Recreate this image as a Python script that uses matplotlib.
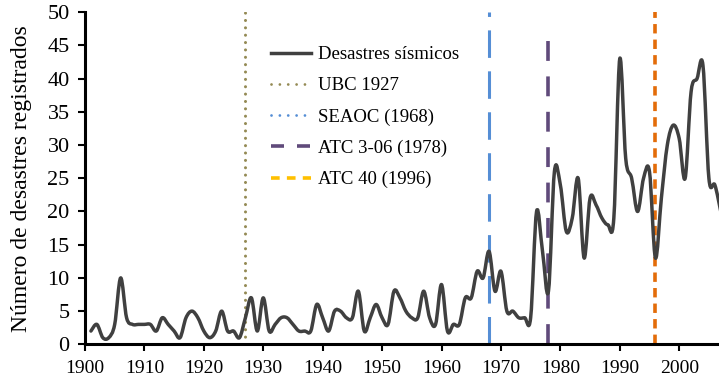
import numpy as np
import matplotlib
matplotlib.use("Agg")
import matplotlib.pyplot as plt
from matplotlib.path import Path
from matplotlib.patches import PathPatch
from matplotlib.lines import Line2D

# Seismic disasters recorded per year
years = list(range(1901, 2008))
disasters = [
    2, 3, 1, 1, 3, 10, 4, 3, 3, 3,        # 1901-1910
    3, 2, 4, 3, 2, 1, 4, 5, 4, 2,         # 1911-1920
    1, 2, 5, 2, 2, 1, 4, 7, 2, 7,         # 1921-1930
    2, 3, 4, 4, 3, 2, 2, 2, 6, 4,         # 1931-1940
    2, 5, 5, 4, 4, 8, 2, 4, 6, 4,         # 1941-1950
    3, 8, 7, 5, 4, 4, 8, 4, 3, 9,         # 1951-1960
    2, 3, 3, 7, 7, 11, 10, 14, 8, 11,     # 1961-1970
    5, 5, 4, 4, 4, 20, 14, 8, 26, 24,     # 1971-1980
    17, 19, 25, 13, 22, 21, 19, 18, 19, 43,  # 1981-1990
    28, 25, 20, 25, 26, 13, 22, 30, 33, 31,  # 1991-2000
    25, 38, 40, 42, 25, 24, 20,           # 2001-2007
]

# Building code milestones drawn as vertical markers
code_labels = ["UBC 1927", "SEAOC (1968)", "ATC 3-06 (1978)", "ATC 40 (1996)"]
code_years = [1927, 1968, 1978, 1996]
code_tops = [50, 50, 48, 50]

y_ticks = list(range(0, 51, 5))
x_ticks = list(range(1900, 2001, 10))

plt.rcParams["font.family"] = ["Liberation Serif", "DejaVu Serif"]

fig = plt.figure(figsize=(7.19, 3.83), dpi=100)
ax = fig.add_axes([0.1182, 0.101, 1 - 0.1182, 0.867])


def smooth_path(xs, ys):
    """Bezier path through every point, with spreadsheet-style smoothing."""
    pts = np.column_stack([xs, ys]).astype(float)
    n = len(pts)
    verts = [pts[0]]
    codes = [Path.MOVETO]
    for i in range(n - 1):
        p0 = pts[i - 1] if i > 0 else pts[i]
        p1 = pts[i]
        p2 = pts[i + 1]
        p3 = pts[i + 2] if i + 2 < n else pts[i + 1]
        c1 = p1 + (p2 - p0) / 6.0
        c2 = p2 - (p3 - p1) / 6.0
        verts.extend([c1, c2, p2])
        codes.extend([Path.CURVE4] * 3)
    return Path(verts, codes)


line_color = "#404040"
ax.add_patch(PathPatch(smooth_path(years, disasters), facecolor="none",
                       edgecolor=line_color, lw=2.5, capstyle="round",
                       joinstyle="round", zorder=3))

# Vertical markers
ax.plot([code_years[0]] * 2, [0, code_tops[0]], color="#948A54", lw=2.2,
        dashes=(0.01, 2.4), dash_capstyle="round", zorder=2)
ax.plot([code_years[1]] * 2, [0, code_tops[1]], color="#558ED5", lw=2.2,
        dashes=(9.0, 4.4), zorder=2)
ax.plot([code_years[2]] * 2, [0, code_tops[2]], color="#604A7B", lw=2.6,
        dashes=(5.5, 4.3), zorder=2)
ax.plot([code_years[3]] * 2, [0, code_tops[3]], color="#E36C09", lw=2.6,
        dashes=(2.6, 1.7), zorder=2)

ax.set_xlim(1900, 2006.7)
ax.set_ylim(0, 50)
ax.set_xticks(x_ticks)
ax.set_yticks(y_ticks)
ax.tick_params(axis="both", width=1.5, length=5, direction="out")
ax.tick_params(axis="x", labelsize=14, pad=6)
ax.tick_params(axis="y", labelsize=16, pad=6)
for s in ["top", "right"]:
    ax.spines[s].set_visible(False)
for s in ["left", "bottom"]:
    ax.spines[s].set_linewidth(2.2)
ax.set_ylabel("Número de desastres registrados", fontsize=17, labelpad=11)

handles = [
    Line2D([], [], color=line_color, lw=2.5),
    Line2D([], [], color="#948A54", lw=2.0, dashes=(0.01, 3.0),
           dash_capstyle="round"),
    Line2D([], [], color="#558ED5", lw=2.0, dashes=(0.01, 3.0),
           dash_capstyle="round"),
    Line2D([], [], color="#604A7B", lw=2.6, dashes=(3.6, 3.6)),
    Line2D([], [], color="#FFC000", lw=2.6, dashes=(2.4, 2.0)),
]
labels = ["Desastres sísmicos"] + code_labels
ax.legend(handles, labels, loc="upper left",
          bbox_to_anchor=(271 / 719, 1 - 46 / 383),
          bbox_transform=fig.transFigure, frameon=False, fontsize=13.5,
          handlelength=2.15, handletextpad=0.35, labelspacing=0.75,
          borderpad=0, borderaxespad=0)

fig.savefig("out.png", dpi=100)
